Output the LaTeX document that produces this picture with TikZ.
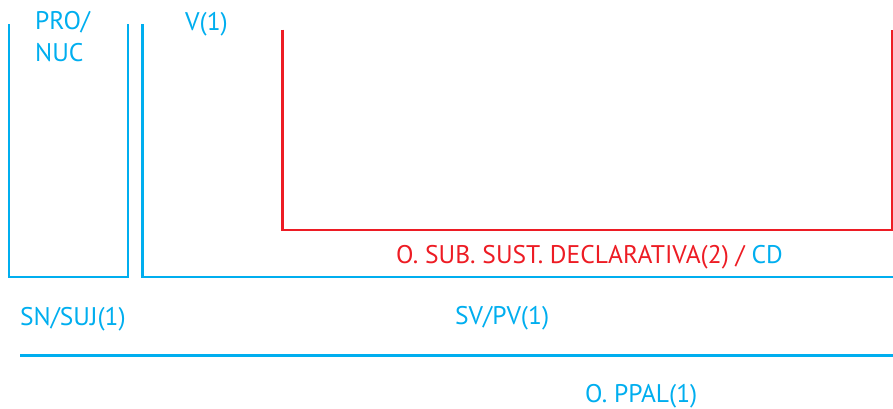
\documentclass[tikz,border=0pt]{standalone}
\usepackage{fontspec}
\setmainfont{PT Sans}
\definecolor{azul}{RGB}{0,174,239}
\definecolor{rojo}{RGB}{237,28,36}
\tikzset{
  rama/.style={line width=2.2pt,azul},
  ramasub/.style={line width=2.2pt,rojo},
  etiq/.style={anchor=base west,inner sep=0pt,font=\fontsize{25.5}{32}\selectfont,azul}
}
\begin{document}
\begin{tikzpicture}[x=1pt,y=-1pt]
    \useasboundingbox (0,0) rectangle (893,408);
    \coordinate (NucA) at (9,24);
    \coordinate (NucB) at (128,24);
    \coordinate (VerA) at (142.5,24);
    \coordinate (VerB) at (893,277);
    \coordinate (SubA) at (282.5,29.5);
    \coordinate (SubB) at (892,29.5);
    \coordinate (OraA) at (20,355.5);
    \coordinate (OraB) at (893,355.5);
    % corchetes
    \draw[rama] (NucA) |- (NucB |- VerB) -- (NucB);
    \draw[rama] (VerA) |- (VerB);
    \draw[ramasub] (SubA) |- (SubB |- 0,230) -- (SubB);
    \draw[rama] (OraA) -- (OraB);
    % etiquetas
    \node[etiq,align=left,anchor=north west] (pro) at (35,11) {PRO/\\NUC};
    \node[etiq] (verbo) at (185,30) {V(1)};
    \node[etiq,rojo] (sub) at (396,263) {O. SUB. SUST. DECLARATIVA(2) / \textcolor{azul}{CD}};
    \node[etiq] (suj) at (20,325) {SN/SUJ(1)};
    \node[etiq] (pred) at (455,324) {SV/PV(1)};
    \node[etiq] (ppal) at (585,402) {O. PPAL(1)};
\end{tikzpicture}
\end{document}
